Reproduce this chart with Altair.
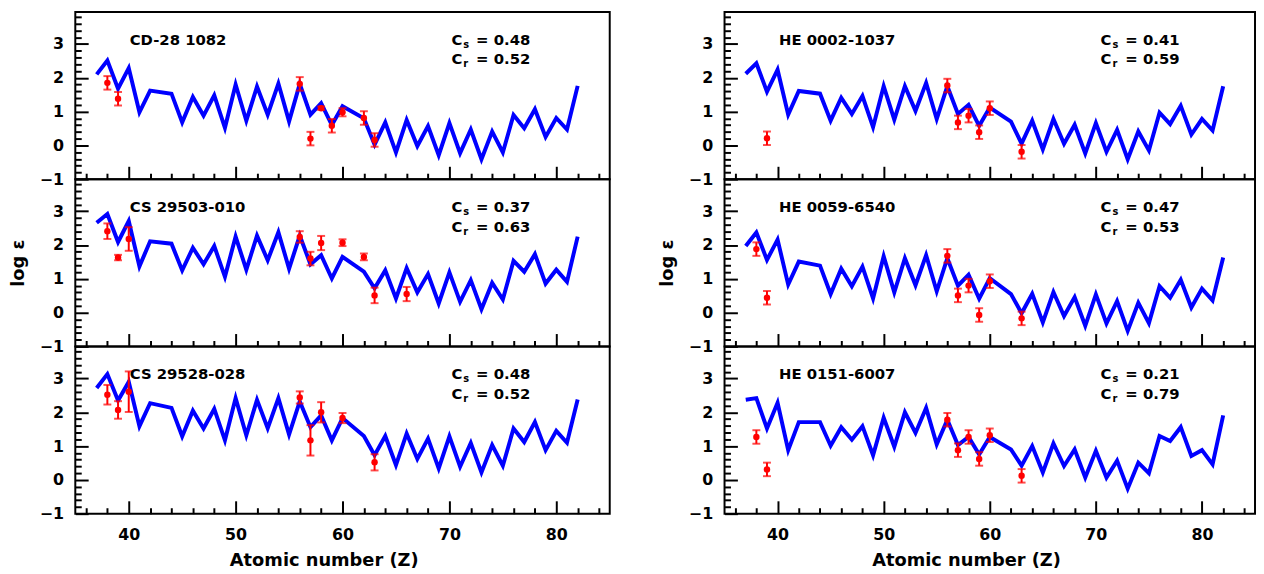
import altair as alt
import pandas as pd

# ---------------- data ----------------
Z_MODEL = [37, 38, 39, 40, 41, 42, 44, 45, 46, 47, 48, 49, 50, 51, 52, 53, 54, 55, 56, 57, 58, 59, 60,
           62, 63, 64, 65, 66, 67, 68, 69, 70, 71, 72, 73, 74, 75, 76, 77, 78, 79, 80, 81, 82]

STARS = ["CD-28 1082", "CS 29503-010", "CS 29528-028", "HE 0002-1037", "HE 0059-6540", "HE 0151-6007"]
CS = ["0.48", "0.37", "0.48", "0.41", "0.47", "0.21"]
CR = ["0.52", "0.63", "0.52", "0.59", "0.53", "0.79"]

MODEL_CD28 = [2.10, 2.51, 1.68, 2.29, 0.98, 1.62, 1.53, 0.68, 1.43, 0.88, 1.48, 0.52, 1.80, 0.73, 1.74, 0.91,
              1.83, 0.71, 1.82, 0.91, 1.25, 0.60, 1.16, 0.80, 0.02, 0.68, -0.21, 0.75, -0.02, 0.57, -0.29,
              0.66, -0.23, 0.47, -0.41, 0.41, -0.21, 0.90, 0.51, 1.07, 0.25, 0.81, 0.47, 1.76]
MODEL_CS503 = [2.66, 2.92, 2.09, 2.71, 1.37, 2.11, 2.04, 1.25, 1.92, 1.43, 1.97, 1.06, 2.25, 1.27, 2.28, 1.55,
               2.38, 1.30, 2.28, 1.43, 1.70, 1.01, 1.65, 1.21, 0.72, 1.25, 0.42, 1.32, 0.60, 1.14, 0.27,
               1.19, 0.32, 0.96, 0.10, 0.88, 0.39, 1.53, 1.21, 1.73, 0.86, 1.27, 0.91, 2.25]
MODEL_CS528 = [2.72, 3.13, 2.35, 2.90, 1.59, 2.27, 2.13, 1.29, 2.05, 1.52, 2.10, 1.17, 2.42, 1.32, 2.37, 1.53,
               2.42, 1.34, 2.32, 1.56, 1.91, 1.17, 1.83, 1.30, 0.73, 1.30, 0.44, 1.37, 0.62, 1.22, 0.34,
               1.29, 0.39, 1.09, 0.22, 1.03, 0.42, 1.52, 1.12, 1.71, 0.88, 1.45, 1.10, 2.38]
MODEL_HE0002 = [2.12, 2.43, 1.59, 2.24, 0.91, 1.61, 1.53, 0.73, 1.41, 0.93, 1.46, 0.54, 1.75, 0.76, 1.75, 1.02,
                1.85, 0.78, 1.75, 0.93, 1.20, 0.58, 1.12, 0.70, 0.05, 0.73, -0.12, 0.78, 0.05, 0.61, -0.24,
                0.66, -0.19, 0.46, -0.41, 0.41, -0.15, 0.97, 0.63, 1.17, 0.32, 0.78, 0.44, 1.75]
MODEL_HE0059 = [1.97, 2.37, 1.56, 2.16, 0.83, 1.51, 1.39, 0.55, 1.30, 0.78, 1.36, 0.42, 1.67, 0.60, 1.61, 0.81,
                1.70, 0.63, 1.61, 0.80, 1.12, 0.41, 1.02, 0.55, -0.02, 0.56, -0.29, 0.61, -0.10, 0.46, -0.39,
                0.54, -0.32, 0.34, -0.54, 0.29, -0.31, 0.78, 0.44, 0.97, 0.15, 0.71, 0.36, 1.63]
MODEL_HE0151 = [2.37, 2.42, 1.52, 2.28, 0.88, 1.71, 1.71, 1.01, 1.56, 1.19, 1.59, 0.73, 1.84, 0.98, 2.00, 1.39,
                2.13, 1.05, 1.78, 1.03, 1.27, 0.75, 1.27, 0.90, 0.42, 1.00, 0.22, 1.08, 0.41, 0.90, 0.07,
                0.86, 0.07, 0.57, -0.26, 0.51, 0.20, 1.30, 1.15, 1.56, 0.71, 0.88, 0.46, 1.91]

OBS_Z_CD28 = [38, 39, 56, 57, 58, 59, 60, 62, 63]
OBS_V_CD28 = [1.85, 1.38, 1.82, 0.20, 1.10, 0.58, 0.98, 0.81, 0.16]
OBS_E_CD28 = [0.20, 0.20, 0.20, 0.20, 0.05, 0.20, 0.12, 0.20, 0.20]

OBS_Z_CS503 = [38, 39, 40, 56, 57, 58, 60, 62, 63, 66]
OBS_V_CS503 = [2.41, 1.63, 2.18, 2.24, 1.60, 2.06, 2.07, 1.65, 0.51, 0.55]
OBS_E_CS503 = [0.23, 0.08, 0.35, 0.17, 0.20, 0.21, 0.10, 0.10, 0.23, 0.21]

OBS_Z_CS528 = [38, 39, 40, 56, 57, 58, 60, 63]
OBS_V_CS528 = [2.52, 2.07, 2.61, 2.44, 1.17, 2.00, 1.83, 0.52]
OBS_E_CS528 = [0.29, 0.26, 0.60, 0.18, 0.45, 0.30, 0.15, 0.24]

OBS_Z_HE0002 = [39, 56, 57, 58, 59, 60, 63]
OBS_V_HE0002 = [0.21, 1.77, 0.68, 0.88, 0.39, 1.10, -0.19]
OBS_E_HE0002 = [0.20, 0.20, 0.20, 0.20, 0.20, 0.20, 0.20]

OBS_Z_HE0059 = [38, 39, 56, 57, 58, 59, 60, 63]
OBS_V_HE0059 = [1.88, 0.44, 1.68, 0.51, 0.80, -0.07, 0.93, -0.17]
OBS_E_HE0059 = [0.20, 0.20, 0.20, 0.20, 0.20, 0.20, 0.20, 0.20]

OBS_Z_HE0151 = [38, 39, 56, 57, 58, 59, 60, 63]
OBS_V_HE0151 = [1.27, 0.31, 1.78, 0.88, 1.27, 0.62, 1.32, 0.12]
OBS_E_HE0151 = [0.20, 0.20, 0.20, 0.20, 0.20, 0.20, 0.20, 0.20]

MODELS = [MODEL_CD28, MODEL_CS503, MODEL_CS528, MODEL_HE0002, MODEL_HE0059, MODEL_HE0151]
OBS_Z = [OBS_Z_CD28, OBS_Z_CS503, OBS_Z_CS528, OBS_Z_HE0002, OBS_Z_HE0059, OBS_Z_HE0151]
OBS_V = [OBS_V_CD28, OBS_V_CS503, OBS_V_CS528, OBS_V_HE0002, OBS_V_HE0059, OBS_V_HE0151]
OBS_E = [OBS_E_CD28, OBS_E_CS503, OBS_E_CS528, OBS_E_HE0002, OBS_E_HE0059, OBS_E_HE0151]

X_MAJOR = [40, 50, 60, 70, 80]
X_MINOR = [36, 38, 42, 44, 46, 48, 52, 54, 56, 58, 62, 64, 66, 68, 72, 74, 76, 78, 82, 84]
Y_MAJOR = [-1, 0, 1, 2, 3]
Y_MINOR = [-0.8, -0.6, -0.4, -0.2, 0.2, 0.4, 0.6, 0.8, 1.2, 1.4, 1.6, 1.8, 2.2, 2.4, 2.6, 2.8,
           3.2, 3.4, 3.6, 3.8]

# ---------------- layout ----------------
H = 169
W_LEFT = 540
W_RIGHT = 536
XDOM = [35, 85]
YDOM = [-1, 3.95]
FONT = "DejaVu Sans"
BLUE = "#0000ff"
RED = "#ff0000"


def panel(i, width, show_x, show_ytitle, title_x):
    mdf = pd.DataFrame({"Z": Z_MODEL, "v": MODELS[i]})
    odf = pd.DataFrame({
        "Z": OBS_Z[i],
        "v": OBS_V[i],
        "lo": [v - e for v, e in zip(OBS_V[i], OBS_E[i])],
        "hi": [v + e for v, e in zip(OBS_V[i], OBS_E[i])],
    })
    xs = alt.Scale(domain=XDOM, nice=False, zero=False)
    ys = alt.Scale(domain=YDOM, nice=False, zero=False)

    x_lab_kw = dict(values=X_MAJOR, format="d", ticks=False, domain=False, grid=False,
                    labels=show_x, orient="bottom", labelPadding=13)
    if show_x:
        x_lab = alt.Axis(title="Atomic number (Z)", titlePadding=9, titleX=title_x, **x_lab_kw)
    else:
        x_lab = alt.Axis(title=None, **x_lab_kw)
    y_lab_kw = dict(values=Y_MAJOR, format="d", ticks=False, domain=False, grid=False,
                    orient="left", labelPadding=12)
    if show_ytitle:
        y_lab = alt.Axis(title="log ε", titlePadding=12, **y_lab_kw)
    else:
        y_lab = alt.Axis(title=None, **y_lab_kw)

    x_maj = alt.Axis(orient="top", offset=-H, values=X_MAJOR, tickSize=13, labels=False,
                     domain=False, grid=False, title=None)
    x_min = alt.Axis(orient="top", offset=-H, values=X_MINOR, tickSize=6, labels=False,
                     domain=False, grid=False, title=None)
    y_maj = alt.Axis(orient="right", offset=-width, values=Y_MAJOR, tickSize=13, labels=False,
                     domain=False, grid=False, title=None)
    y_min = alt.Axis(orient="right", offset=-width, values=Y_MINOR, tickSize=6, labels=False,
                     domain=False, grid=False, title=None)

    line = alt.Chart(mdf).mark_line(color=BLUE, strokeWidth=4, clip=True).encode(
        x=alt.X("Z:Q", scale=xs, axis=x_lab),
        y=alt.Y("v:Q", scale=ys, axis=y_lab),
    )
    bars = alt.Chart(odf).mark_rule(color=RED, strokeWidth=2).encode(
        x=alt.X("Z:Q", scale=xs, axis=x_maj),
        y=alt.Y("lo:Q", scale=ys, axis=y_maj),
        y2="hi:Q",
    )
    pts = alt.Chart(odf).mark_circle(color=RED, size=42, opacity=1).encode(
        x=alt.X("Z:Q", scale=xs, axis=x_min),
        y=alt.Y("v:Q", scale=ys, axis=y_min),
    )
    cap_lo = alt.Chart(odf).mark_tick(color=RED, orient="horizontal", size=8, thickness=2).encode(
        x=alt.X("Z:Q", scale=xs, axis=None),
        y=alt.Y("lo:Q", scale=ys, axis=None),
    )
    cap_hi = alt.Chart(odf).mark_tick(color=RED, orient="horizontal", size=8, thickness=2).encode(
        x=alt.X("Z:Q", scale=xs, axis=None),
        y=alt.Y("hi:Q", scale=ys, axis=None),
    )

    txt = dict(font=FONT, fontWeight="bold", color="black", align="left", baseline="middle")
    tdf = pd.DataFrame({"name": [STARS[i]], "c": ["C"], "s": ["s"], "r": ["r"],
                        "cs": ["= " + CS[i]], "cr": ["= " + CR[i]]})
    base = alt.Chart(tdf)
    name = base.mark_text(fontSize=15, **txt).encode(x=alt.value(55), y=alt.value(28), text="name:N")
    c1 = base.mark_text(fontSize=15, **txt).encode(x=alt.value(380), y=alt.value(28), text="c:N")
    s1 = base.mark_text(fontSize=10, **txt).encode(x=alt.value(392), y=alt.value(33), text="s:N")
    e1 = base.mark_text(fontSize=15, **txt).encode(x=alt.value(405), y=alt.value(28), text="cs:N")
    c2 = base.mark_text(fontSize=15, **txt).encode(x=alt.value(380), y=alt.value(48), text="c:N")
    s2 = base.mark_text(fontSize=10, **txt).encode(x=alt.value(392), y=alt.value(53), text="r:N")
    e2 = base.mark_text(fontSize=15, **txt).encode(x=alt.value(405), y=alt.value(48), text="cr:N")

    return alt.layer(line, bars, pts, cap_lo, cap_hi, name, c1, s1, e1, c2, s2, e2).resolve_axis(
        x="independent", y="independent"
    ).properties(width=width, height=H)


left = alt.vconcat(
    panel(0, W_LEFT, False, False, 0),
    panel(1, W_LEFT, False, True, 0),
    panel(2, W_LEFT, True, False, 251),
    spacing=0, bounds="flush",
)
right = alt.vconcat(
    panel(3, W_RIGHT, False, False, 0),
    panel(4, W_RIGHT, False, True, 0),
    panel(5, W_RIGHT, True, False, 244),
    spacing=0, bounds="flush",
)

chart = alt.hconcat(left, right, spacing=47).properties(
    padding=0
).configure_view(
    stroke="black", strokeWidth=2
).configure_axis(
    labelFont=FONT, labelFontWeight="bold", labelFontSize=16, labelColor="black",
    titleFont=FONT, titleFontWeight="bold", titleFontSize=18, titleColor="black",
    tickColor="black", tickWidth=2,
)

chart.save("out.html", embed_options={"renderer": "svg", "actions": False})
